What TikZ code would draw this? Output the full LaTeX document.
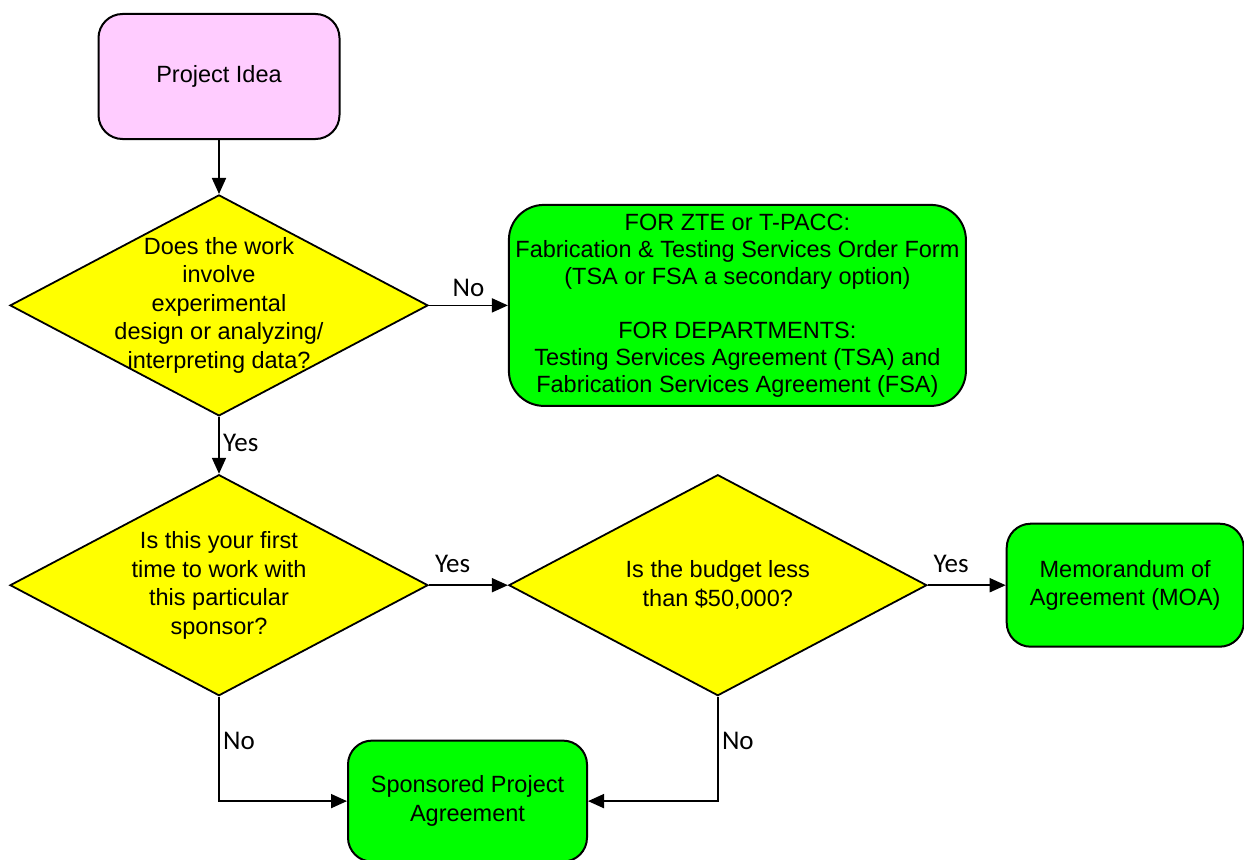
\documentclass[tikz,border=0pt]{standalone}
\usepackage{fontspec}
\setmainfont{Liberation Sans}
\newfontfamily\lblfont{Carlito}
\usetikzlibrary{positioning,shapes,arrows.meta}

\definecolor{ideapink}{HTML}{FFCCFF}
\definecolor{agreegreen}{HTML}{00FF00}
\definecolor{askyellow}{HTML}{FFFF00}

\begin{document}
\begin{tikzpicture}[font=\fontsize{23.5}{28.5}\selectfont]
            \tikzstyle{startstop} = [rectangle, rounded corners=24pt, minimum width=241pt, minimum height=125pt, align=center, draw=black, line width=2pt, fill=ideapink]
            \tikzstyle{decision} = [diamond, minimum width=418pt, minimum height=221pt, inner sep=0pt, draw=black, line width=1.8pt, fill=askyellow]
            \tikzstyle{agreement} = [rectangle, rounded corners=24pt, align=center, draw=black, line width=2pt, fill=agreegreen]
            \tikzstyle{arrow} = [line width=1.8pt, -{Triangle[length=16pt,width=14pt]}]
            \tikzstyle{answer} = [font=\lblfont\fontsize{27}{30}\selectfont]

            \useasboundingbox (0,0) rectangle (1244pt,-859pt);

            % Nodes
            \node (idea) [startstop] at (219pt,-76.5pt) {Project Idea};
            \node (work) [decision, below=54pt of idea, label={[align=center]center:{Does the work\\involve\\experimental\\design or analyzing/\\interpreting data?}}] {};
            \node (tsa) [agreement, right=79pt of work, rounded corners=35pt, minimum width=457pt, minimum height=201pt, inner ysep=2pt, font=\fontsize{23.5}{27}\selectfont] {FOR ZTE or T-PACC:\\Fabrication \& Testing Services Order Form\\(TSA or FSA a secondary option)\\[27pt]FOR DEPARTMENTS:\\Testing Services Agreement (TSA) and\\Fabrication Services Agreement (FSA)};

            % Second row of questions
            \node (first) [decision, below=57pt of work, label={[align=center]center:{Is this your first\\time to work with\\this particular\\sponsor?}}] {};
            \node (budget) [decision, right=79pt of first, label={[align=center]center:{Is the budget less\\than \$50,000?}}] {};
            \node (moa) [agreement, right=78pt of budget, minimum width=237pt, minimum height=123pt] {Memorandum of\\Agreement (MOA)};

            % Agreement
            \node (spa) [agreement, below=43pt of first, xshift=248.5pt, minimum width=239pt, minimum height=121pt] {Sponsored Project\\Agreement};

            % Arrows
            \draw [arrow] (idea) -- (work);
            \draw [arrow] (work) -- node[answer, above, yshift=4pt] {No} (tsa);
            \draw [arrow] (work) -- node[answer, right, yshift=2pt] {Yes} (first);
            \draw [arrow] (first) -- node[answer, above, pos=0.3, yshift=8pt] {Yes} (budget);
            \draw [arrow] (budget) -- node[answer, above, pos=0.3, yshift=8pt] {Yes} (moa);
            \draw [arrow] (first) |- node[answer, right, pos=0.21] {No} (spa);
            \draw [arrow] (budget) |- node[answer, right, pos=0.21] {No} (spa);
        \end{tikzpicture}
\end{document}
